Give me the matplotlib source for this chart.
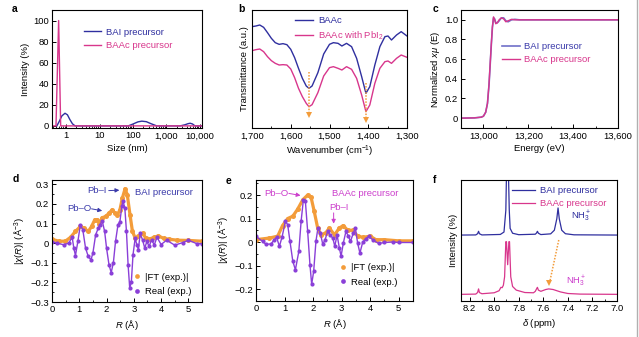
import matplotlib
matplotlib.use("Agg")
import matplotlib.pyplot as plt
from matplotlib.ticker import MultipleLocator, StrMethodFormatter, LogLocator, NullFormatter, FixedLocator, FixedFormatter
from matplotlib.lines import Line2D

# ---- a: DLS size distribution ----
a_bai_size = [0.53, 0.62, 0.75, 0.93, 1.1, 1.3, 1.55, 1.86, 10, 72, 100, 140, 183, 250, 350, 512, 2550, 3500, 4400, 5100, 6000, 7100, 11500]
a_bai_int = [0, 4, 9.5, 12, 10.5, 6, 2, 0, 0, 0, 1.8, 3.8, 4.5, 4, 2, 0, 0, 1, 2.1, 2.5, 1.8, 0, 0]
a_baac_size = [0.38, 0.5, 0.6, 0.69, 11500]
a_baac_int = [0, 0, 100, 0, 0]

# ---- b: FTIR ----
b_wn = [1700, 1690, 1680, 1670, 1660, 1650, 1640, 1630, 1620, 1610, 1600, 1590, 1580, 1570, 1560, 1553,
        1545, 1530, 1515, 1500, 1490, 1478, 1468, 1456, 1443, 1430, 1417, 1406, 1396, 1383, 1370, 1357,
        1349, 1340, 1327, 1315, 1300]
b_baac = [3.04, 3.06, 3.09, 3.02, 2.86, 2.69, 2.56, 2.51, 2.53, 2.50, 2.36, 2.11, 1.79, 1.49, 1.26, 1.19,
          1.26, 1.66, 2.22, 2.51, 2.56, 2.54, 2.46, 2.54, 2.44, 2.09, 1.54, 1.04, 1.24, 1.89, 2.44, 2.74,
          2.76, 2.64, 2.79, 2.89, 2.76]
b_baac_pbi2 = [2.32, 2.35, 2.37, 2.29, 2.14, 2.02, 1.94, 1.89, 1.90, 1.89, 1.77, 1.51, 1.19, 0.94, 0.74, 0.64,
               0.70, 1.06, 1.56, 1.81, 1.84, 1.79, 1.74, 1.84, 1.76, 1.49, 0.99, 0.49, 0.69, 1.34, 1.79, 1.99,
               2.01, 1.94, 2.09, 2.19, 2.12]
b_shift_wn = [1552, 1405]
b_shift_from = [1.69, 1.34]
b_shift_to = [0.39, 0.24]

# ---- c: XANES ----
c_energy = [12900, 12960, 12990, 13000, 13010, 13018, 13025, 13030, 13035, 13040, 13045, 13050, 13055, 13062,
            13070, 13080, 13090, 13100, 13110, 13125, 13140, 13160, 13200, 13300, 13400, 13500, 13600]
c_bai = [0, 0.003, 0.01, 0.02, 0.06, 0.15, 0.34, 0.54, 0.74, 0.92, 1.02, 1.01, 0.97, 0.97, 0.99, 1.02, 1.02,
         0.99, 0.98, 1.0, 1.005, 1.0, 1.0, 1.0, 1.0, 1.0, 1.0]
c_baac = [0, 0.003, 0.01, 0.02, 0.06, 0.15, 0.35, 0.55, 0.75, 0.93, 1.03, 1.0, 0.96, 0.97, 1.0, 1.02, 1.01,
          0.98, 0.99, 1.005, 1.0, 1.0, 1.0, 1.0, 1.0, 1.0, 1.0]

# ---- d: EXAFS, BAI precursor ----
d_r_ft = [0, 0.25, 0.49, 0.68, 0.86, 1.04, 1.17, 1.33, 1.45, 1.57, 1.66, 1.74, 1.84, 1.97, 2.09, 2.21, 2.31,
          2.40, 2.49, 2.58, 2.68, 2.76, 2.86, 2.95, 3.05, 3.17, 3.32, 3.44, 3.59, 3.75, 3.9, 4.1, 4.3, 4.6,
          5.0, 5.5]
d_ft = [0.02, 0.01, 0.01, 0.03, 0.06, 0.085, 0.077, 0.06, 0.085, 0.12, 0.12, 0.10, 0.13, 0.136, 0.153, 0.17,
        0.153, 0.145, 0.17, 0.23, 0.278, 0.247, 0.145, 0.06, 0.026, 0.034, 0.05, 0.026, 0.022, 0.03, 0.037,
        0.024, 0.02, 0.015, 0.014, 0.01]
d_r_re = [0, 0.18, 0.43, 0.61, 0.74, 0.80, 0.86, 0.95, 1.04, 1.13, 1.23, 1.33, 1.43, 1.50, 1.60, 1.70, 1.76,
          1.84, 1.93, 2.00, 2.09, 2.17, 2.25, 2.33, 2.42, 2.49, 2.56, 2.60, 2.67, 2.73, 2.79, 2.85, 2.91,
          2.97, 3.05, 3.11, 3.17, 3.23, 3.32, 3.40, 3.48, 3.56, 3.65, 3.75, 3.85, 4.0, 4.2, 4.5, 4.8, 5.0,
          5.3, 5.5]
d_re = [0.008, 0.0, -0.008, 0.0, 0.03, -0.025, -0.063, 0.01, 0.094, 0.068, -0.025, -0.068, -0.085, -0.05,
        0.043, 0.077, 0.094, 0.114, 0.06, -0.025, -0.11, -0.15, -0.10, 0.01, 0.094, 0.11, 0.187, 0.216, 0.18,
        0.06, -0.11, -0.23, -0.196, -0.06, 0.026, -0.009, -0.034, 0.05, 0.017, -0.025, 0.009, -0.017, 0.017,
        -0.009, 0.03, -0.007, 0.015, -0.01, 0.003, 0.015, -0.002, -0.003]

# ---- e: EXAFS, BAAc precursor ----
e_r_ft = [0, 0.47, 0.76, 0.93, 1.11, 1.29, 1.46, 1.64, 1.81, 1.93, 2.04, 2.16, 2.28, 2.45, 2.57, 2.75, 2.92,
          3.06, 3.21, 3.39, 3.56, 3.75, 4.0, 4.2, 4.5, 5.0, 5.5]
e_ft = [0.01, 0.017, 0.025, 0.07, 0.10, 0.11, 0.14, 0.18, 0.20, 0.19, 0.13, 0.06, 0.03, 0.04, 0.06, 0.03,
        0.06, 0.07, 0.05, 0.05, 0.025, 0.02, 0.025, 0.01, 0.01, 0.005, 0.005]
e_r_re = [0, 0.23, 0.35, 0.53, 0.64, 0.72, 0.82, 0.91, 1.03, 1.11, 1.19, 1.29, 1.38, 1.50, 1.58, 1.66, 1.73,
          1.81, 1.89, 1.95, 2.02, 2.10, 2.17, 2.25, 2.34, 2.42, 2.51, 2.60, 2.69, 2.76, 2.84, 2.92, 2.98,
          3.06, 3.15, 3.24, 3.31, 3.41, 3.48, 3.56, 3.64, 3.74, 3.85, 3.95, 4.1, 4.3, 4.5, 4.8, 5.0, 5.5]
e_re = [0.024, 0.003, -0.01, -0.008, 0.01, 0.02, -0.018, 0.02, 0.088, 0.074, 0.003, -0.082, -0.118, -0.04,
        0.088, 0.18, 0.173, 0.045, -0.096, -0.18, -0.125, 0.003, 0.06, 0.04, -0.01, 0.01, 0.045, 0.03, 0.017,
        -0.018, 0.03, -0.025, -0.06, -0.004, 0.045, 0.024, 0.003, 0.038, 0.06, -0.004, -0.047, 0.0, 0.015,
        0.025, 0.008, -0.006, -0.002, 0.0, -0.002, -0.002]

# ---- f: 1H NMR ----
f_bai_ppm = [8.27, 8.15, 8.135, 8.127, 8.12, 8.10, 7.95, 7.92, 7.905, 7.897, 7.887, 7.877, 7.87, 7.85, 7.80,
             7.665, 7.655, 7.648, 7.64, 7.62, 7.54, 7.51, 7.49, 7.48, 7.47, 7.45, 7.42, 7.35, 7.0]
f_bai_int = [0.545, 0.546, 0.556, 0.576, 0.556, 0.546, 0.55, 0.57, 0.75, 1.2, 1.2, 0.75, 0.6, 0.56, 0.548,
             0.552, 0.562, 0.576, 0.56, 0.549, 0.555, 0.585, 0.68, 0.769, 0.68, 0.585, 0.556, 0.547, 0.545]
f_baac_ppm = [8.27, 8.15, 8.135, 8.127, 8.12, 8.10, 8.0, 7.96, 7.945, 7.935, 7.925, 7.915, 7.905, 7.90, 7.89,
              7.88, 7.875, 7.865, 7.85, 7.82, 7.75, 7.68, 7.665, 7.655, 7.648, 7.64, 7.62, 7.58, 7.556, 7.52,
              7.46, 7.40, 7.30, 7.0]
f_baac_int = [0.055, 0.057, 0.07, 0.1, 0.07, 0.06, 0.068, 0.085, 0.113, 0.11, 0.13, 0.2, 0.49, 0.49, 0.3,
              0.49, 0.49, 0.2, 0.12, 0.09, 0.07, 0.068, 0.08, 0.1, 0.113, 0.09, 0.08, 0.095, 0.1, 0.095,
              0.075, 0.062, 0.057, 0.055]

BLUE = "#2f2f9f"
PINK = "#d8368c"
ORANGE = "#f39c3a"
PURPLE = "#8a3fd8"
TXT_BLUE = "#3a3aaa"
MAGENTA = "#cc3fcc"

plt.rcParams.update({
    "font.family": ["Liberation Sans", "DejaVu Sans"],
    "font.size": 6.8,
    "mathtext.fontset": "custom",
    "mathtext.rm": "Liberation Sans",
    "mathtext.it": "Liberation Sans:italic",
    "axes.linewidth": 0.8,
    "xtick.direction": "in",
    "ytick.direction": "in",
    "xtick.major.size": 3,
    "ytick.major.size": 3,
    "xtick.minor.size": 1.6,
    "ytick.minor.size": 1.6,
    "xtick.major.width": 0.7,
    "ytick.major.width": 0.7,
    "xtick.minor.width": 0.6,
    "ytick.minor.width": 0.6,
    "xtick.major.pad": 2.5,
    "ytick.major.pad": 2,
    "axes.labelpad": 2.5,
})

W, H = 639, 337
fig = plt.figure(figsize=(W / 100, H / 100), dpi=100)


def box(l, t, r, b):
    return [l / W, 1 - b / H, (r - l) / W, (b - t) / H]


def legend(ax, handles, x, y, colors=None, spacing=0.45, **kw):
    leg = ax.legend(handles=handles, loc="upper left", bbox_to_anchor=(x, y), frameon=False,
                    borderpad=0, borderaxespad=0, handletextpad=0.5, labelspacing=spacing, **kw)
    if colors:
        for t, c in zip(leg.get_texts(), colors):
            t.set_color(c)
    return leg


def pointer(ax, tip, start, color):
    ax.annotate("", xy=tip, xytext=start,
                arrowprops=dict(arrowstyle="-|>", color=color, lw=0.7, mutation_scale=6,
                                shrinkA=0, shrinkB=0))


# a
ax = fig.add_axes(box(52, 10, 202, 128))
ax.plot(a_bai_size, a_bai_int, color=BLUE, lw=1.0, label="BAI precursor")
ax.plot(a_baac_size, a_baac_int, color=PINK, lw=1.0, label="BAAc precursor")
ax.set_xscale("log")
ax.set_xlim(0.38, 11500)
ax.set_ylim(-2, 110)
ax.xaxis.set_major_locator(FixedLocator([1, 10, 100, 1000, 10000]))
ax.xaxis.set_major_formatter(FixedFormatter(["1", "10", "100", "1,000", "10,000"]))
ax.xaxis.set_minor_locator(LogLocator(subs=range(2, 10)))
ax.xaxis.set_minor_formatter(NullFormatter())
ax.yaxis.set_major_locator(MultipleLocator(20))
ax.set_xlabel("Size (nm)")
ax.set_ylabel("Intensity (%)")
h, _ = ax.get_legend_handles_labels()
legend(ax, h, 0.21, 0.85, [BLUE, PINK], handlelength=1.9)

# b
ax = fig.add_axes(box(252, 10, 407, 128))
ax.plot(b_wn, b_baac, color=BLUE, lw=1.0, label="BAAc")
ax.plot(b_wn, b_baac_pbi2, color=PINK, lw=1.0, label="BAAc with PbI$_2$")
for x, y0, y1 in zip(b_shift_wn, b_shift_from, b_shift_to):
    ax.plot([x, x], [y0, y1 + 0.08], color=ORANGE, lw=1.1, ls=(0, (1, 1)))
    ax.plot([x], [y1], marker="v", color=ORANGE, ms=3.8, mew=0)
ax.set_xlim(1700, 1300)
ax.set_ylim(0, 3.54)
ax.xaxis.set_major_locator(MultipleLocator(100))
ax.xaxis.set_minor_locator(MultipleLocator(50))
ax.xaxis.set_major_formatter(StrMethodFormatter("{x:,.0f}"))
ax.set_yticks([])
ax.set_xlabel("Wavenumber (cm$^{-1}$)")
ax.set_ylabel("Transmittance (a.u.)")
h, _ = ax.get_legend_handles_labels()
legend(ax, h, 0.28, 0.95, [BLUE, PINK], handlelength=1.9)

# c
ax = fig.add_axes(box(461, 10, 618, 128))
ax.plot(c_energy, c_bai, color="#7070c8", lw=1.2, label="BAI precursor")
ax.plot(c_energy, c_baac, color=PINK, lw=1.0, label="BAAc precursor")
ax.set_xlim(12900, 13600)
ax.set_ylim(-0.1, 1.1)
ax.xaxis.set_major_locator(MultipleLocator(200))
ax.xaxis.set_minor_locator(MultipleLocator(100))
ax.xaxis.set_major_formatter(StrMethodFormatter("{x:,.0f}"))
ax.yaxis.set_major_locator(MultipleLocator(0.2))
ax.yaxis.set_major_formatter(lambda v, p: "0" if abs(v) < 1e-9 else f"{v:.1f}")
ax.set_xlabel("Energy (eV)")
ax.set_ylabel("Normalized $x\\mu$ (E)")
h, _ = ax.get_legend_handles_labels()
legend(ax, h, 0.26, 0.73, [TXT_BLUE, PINK], handlelength=1.9)


def exafs(ax, r_ft, ft, r_re, re):
    ax.plot(r_ft, ft, color=ORANGE, lw=2.3, marker="o", ms=3.6, mew=0)
    ax.plot(r_re, re, color=PURPLE, lw=1.0, marker="o", ms=3.0, mew=0)
    ax.set_xlim(0, 5.5)
    ax.xaxis.set_major_locator(MultipleLocator(1))
    ax.xaxis.set_minor_locator(MultipleLocator(0.5))
    ax.yaxis.set_major_locator(MultipleLocator(0.1))
    ax.yaxis.set_minor_locator(MultipleLocator(0.05))
    ax.yaxis.set_major_formatter(lambda v, p: "0" if abs(v) < 1e-9 else f"{v:.1f}".replace("-", "\u2212"))
    ax.set_xlabel("$R$ (Å)")
    ax.set_ylabel("|$\\chi$($R$)| (Å$^{-3}$)")
    hs = [Line2D([], [], ls="", marker="o", ms=3.4, mew=0, color=ORANGE),
          Line2D([], [], ls="", marker="o", ms=3.4, mew=0, color=PURPLE)]
    return hs


# d
ax = fig.add_axes(box(52, 180, 202, 302))
hs = exafs(ax, d_r_ft, d_ft, d_r_re, d_re)
ax.set_ylim(-0.3, 0.322)
ax.text(1.29, 0.266, "Pb\u2013I", color=TXT_BLUE, va="center")
pointer(ax, (2.47, 0.27), (2.08, 0.268), TXT_BLUE)
ax.text(0.55, 0.177, "Pb\u2013O", color=TXT_BLUE, va="center")
pointer(ax, (1.84, 0.165), (1.45, 0.175), TXT_BLUE)
ax.text(3.06, 0.257, "BAI precursor", color=TXT_BLUE, va="center")
legend(ax, hs, 0.54, 0.24, None, spacing=0.55, labels=["|FT (exp.)|", "Real (exp.)"], handlelength=0.8)

# e
ax = fig.add_axes(box(256, 180, 413, 301))
hs = exafs(ax, e_r_ft, e_ft, e_r_re, e_re)
ax.set_ylim(-0.251, 0.264)
ax.text(0.28, 0.208, "Pb\u2013O", color=MAGENTA, va="center")
pointer(ax, (1.56, 0.198), (1.15, 0.207), MAGENTA)
ax.text(2.67, 0.207, "BAAc precursor", color=MAGENTA, va="center")
ax.text(2.55, 0.146, "Pb\u2013I", color=MAGENTA, va="center")
pointer(ax, (2.72, 0.078), (2.72, 0.124), MAGENTA)
legend(ax, hs, 0.53, 0.31, None, spacing=0.55, labels=["|FT (exp.)|", "Real (exp.)"], handlelength=0.8)

# f
ax = fig.add_axes(box(461, 180, 617, 301))
ax.plot(f_bai_ppm, f_bai_int, color=BLUE, lw=0.9, label="BAI precursor")
ax.plot(f_baac_ppm, f_baac_int, color=PINK, lw=0.9, label="BAAc precursor")
ax.plot([7.474, 7.545], [0.504, 0.17], color=ORANGE, lw=1.1, ls=(0, (1, 1)))
ax.plot([7.556], [0.146], marker="v", color=ORANGE, ms=3.8, mew=0)
ax.text(7.29, 0.70, "NH$_3^+$", color=BLUE, ha="center", va="center")
ax.text(7.33, 0.16, "NH$_3^+$", color=MAGENTA, ha="center", va="center")
ax.set_xlim(8.27, 7.0)
ax.set_ylim(0, 1)
ax.xaxis.set_major_locator(MultipleLocator(0.2))
ax.xaxis.set_minor_locator(MultipleLocator(0.1))
ax.xaxis.set_major_formatter(StrMethodFormatter("{x:.1f}"))
ax.set_yticks([])
ax.set_xlabel("$\\delta$ (ppm)")
ax.set_ylabel("Intensity (%)")
h, _ = ax.get_legend_handles_labels()
legend(ax, h, 0.33, 0.95, [BLUE, PINK], handlelength=2.4)

# panel letters
for lbl, (x, y) in zip("abcdef", [(12, 9), (238, 9), (433, 9), (13, 179), (226, 181), (433, 180)]):
    fig.text(x / W, 1 - y / H, lbl, fontsize=7.5, fontweight="bold", va="center", ha="left")

fig.add_artist(Line2D([637 / W, 637 / W], [0, 1], color="#b0b0b0", lw=1.0))

fig.savefig("out.png", dpi=100)
